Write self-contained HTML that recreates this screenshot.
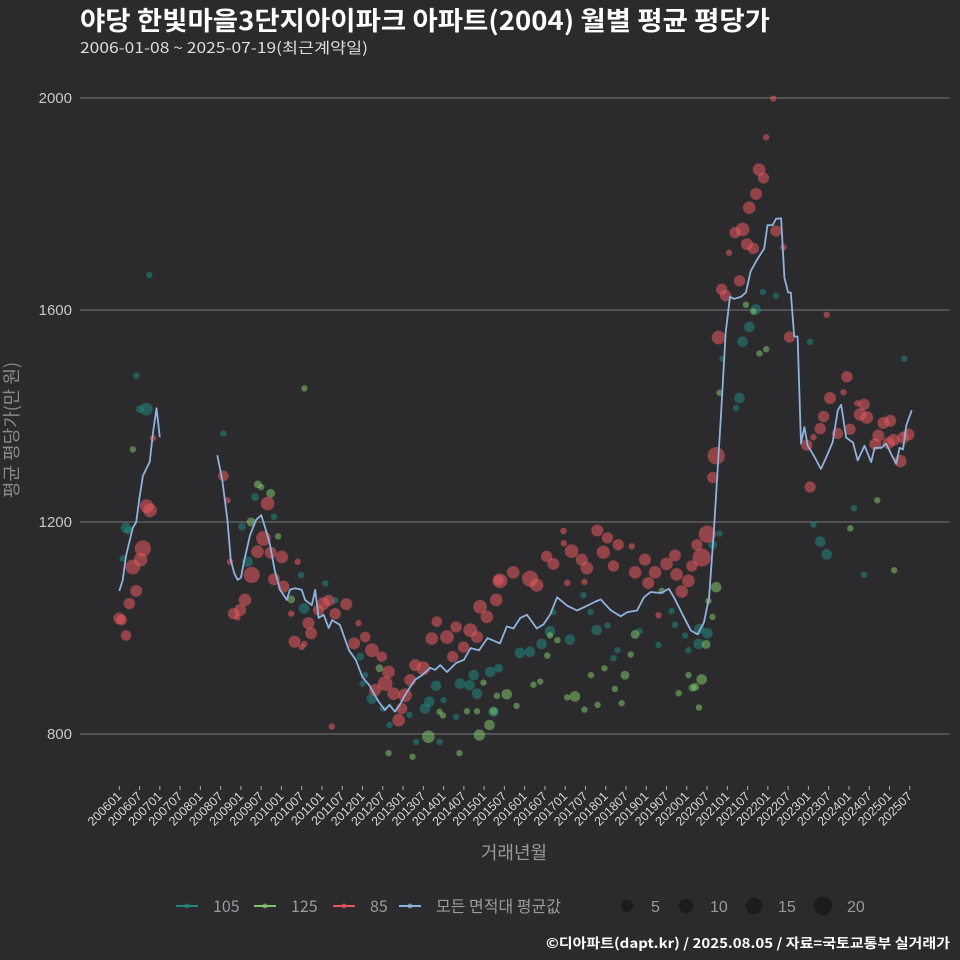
<!DOCTYPE html>
<html><head><meta charset="utf-8">
<style>
html,body{margin:0;padding:0;background:#2b2b2d;}
svg{display:block;font-family:"Liberation Sans","Noto Sans CJK KR",sans-serif;}
.kr{font-family:"Noto Sans CJK KR","Liberation Sans",sans-serif;}
</style></head>
<body>
<svg id="chart" width="960" height="960" viewBox="0 0 960 960">
<rect x="0" y="0" width="960" height="960" fill="#2b2b2d"/>
<text class="kr" x="80" y="30" fill="#ffffff" font-size="26" font-weight="bold" textLength="690" lengthAdjust="spacingAndGlyphs">야당 한빛마을3단지아이파크 아파트(2004) 월별 평균 평당가</text>
<text class="kr" x="80" y="53" fill="#dddddd" font-size="15" textLength="288" lengthAdjust="spacingAndGlyphs">2006-01-08 ~ 2025-07-19(최근계약일)</text>
<g id="grid"></g>
<g id="marks"></g>
<g id="xaxis"></g>
<text class="kr" x="0" y="0" transform="translate(18,430) rotate(-90)" text-anchor="middle" fill="#8a8a8a" font-size="18">평균 평당가(만 원)</text>
<text class="kr" x="514" y="859" text-anchor="middle" fill="#999999" font-size="18">거래년월</text>
<g id="legend"></g>
<text class="kr" x="546" y="948" fill="#ffffff" font-size="13.5" font-weight="bold" textLength="404" lengthAdjust="spacingAndGlyphs">©디아파트(dapt.kr) / 2025.08.05 / 자료=국토교통부 실거래가</text>
</svg>
<script>
// ---- data (month index from 2006-01) ----
const yTicks = [800, 1200, 1600, 2000];
const xTickLabels = ["200601","200607","200701","200707","200801","200807","200901","200907","201001","201007","201101","201107","201201","201207","201301","201307","201401","201407","201501","201507","201601","201607","201701","201707","201801","201807","201901","201907","202001","202007","202101","202107","202201","202207","202301","202307","202401","202407","202501","202507"];

const avgMonth = [0,1,2,4,5,6,7,8.5,9,10,11,12,null,29,30.5,32,33,34,35,36,37,38.7,40.5,42,43.4,44.6,46,47.6,49.6,50.5,52,54,55,57,58,59,60.5,62,63,65.3,68,70,72,74,76.5,78.6,80,81.6,83,84.6,87.5,89.6,92,93.5,95,97,99.7,102,104,106.5,109,112.7,114.7,116.7,118.7,120.7,123.6,125.6,127.6,129.6,132.6,135.5,138.5,141,142.5,145.4,148.4,150.4,153.3,155.3,157.3,160.3,162.7,164.2,166.7,169.2,171.2,173.1,174.6,176.1,178.1,179.5,180.8,182,184,185.5,186.9,188.9,190.9,191.9,193.4,194.4,195.9,196.9,198,198.8,199.8,200.8,201.8,202.8,203.8,205.7,207.7,209.2,211.2,212.7,213.7,215.2,217.2,218.6,220.6,222.6,223.6,225.6,227,228.5,230,231,232,233,234.6];
const avgValue = [1070,1090,1137,1189,1200,1247,1287,1307,1313,1370,1415,1360,null,1326,1279,1204,1128,1104,1091,1095,1128,1175,1204,1213,1185,1157,1109,1072,1053,1072,1075,1072,1053,1043,1072,1019,1025,1000,1015,1006,958,940,907,892,864,845,855,842,855,874,902,911,925,921,930,917,934,940,962,958,981,971,1003,999,1019,1025,999,1007,1026,1058,1042,1033,1042,1050,1054,1034,1022,1030,1033,1058,1068,1066,1074,1058,1026,995,988,1011,1058,1193,1399,1558,1625,1621,1625,1633,1673,1696,1716,1760,1760,1772,1773,1661,1633,1633,1550,1550,1348,1379,1344,1324,1300,1321,1351,1411,1421,1359,1350,1316,1344,1313,1340,1340,1348,1328,1310,1340,1337,1383,1411];

const redMonth = [30.8,32,8.1,9.1,7,6.3,4,5,3,0,0.7,2,10,43.9,42.7,40.9,44.8,48.1,32.8,39.2,45.8,48.6,52.8,37.2,35.8,33.8,35,50.9,60.4,62,59,63.9,67.2,56,56.8,51.9,54,54.8,70.8,69.5,72.8,74.8,77.7,79.7,78.7,81.2,84.6,83.6,82.7,86.1,87.6,90,92.5,94,97,99.7,101.9,98.7,103.9,105.9,106.8,108.8,111.6,112.3,62.9,75.7,112.7,116.6,121.6,123.6,126.5,128.5,131.5,133.9,136.9,138.4,141.5,143.3,144.5,147.7,146.3,151.7,152.7,155.6,158.6,156.6,162,164.5,165,166.5,168.5,169.5,171,172.4,174.1,132.6,137.7,159.6,131.6,175.7,176.7,177.4,178.3,179.5,180.5,183.6,182.3,184.5,185.8,187.7,186.5,188.5,189.4,190.7,191.5,193.6,194.4,196.6,198.4,204.5,203.5,205.5,207.5,208.5,209.4,210.4,212.6,214.4,215.4,216.3,218.5,219.3,220.5,221.3,223.8,224.7,226.2,228.2,227.7,229.2,231.2,232.1,233.6];
const redValue = [1287,1241,1230,1222,1150,1129,1115,1070,1046,1018,1015,986,1358,1235,1169,1144,1142,1134,1125,1100,1092,1078,1125,1053,1034,1027,1020,1027,1046,1052,1034,1027,1045,1009,990,974,964,970,1009,971,983,958,946,917,895,876,873,848,826,902,930,924,980,1012,983,1002,964,946,996,983,1040,1021,1053,1090,814,883,1089,1105,1093,1081,1135,1121,1183,1145,1129,1113,1184,1143,1170,1157,1117,1154,1105,1129,1105,1085,1121,1137,1101,1069,1089,1117,1157,1133,1177,1085,1087,1024,1160,1284,1325,1548,1639,1627,1708,1655,1746,1752,1724,1716,1793,1819,1865,1849,1926,1999,1749,1718,1549,1266,1345,1360,1376,1399,1591,1434,1367,1445,1474,1375,1424,1403,1422,1397,1347,1363,1387,1391,1349,1355,1315,1359,1365];
const redCount = [5,1,10,10,15,10,12,7,6,7,5,5,1,10,12,8,7,8,1,15,7,7,1,8,7,6,1,1,8,6,6,6,7,7,7,7,1,1,1,7,5,10,5,8,12,8,10,6,8,7,7,10,8,5,10,6,6,6,10,7,10,8,8,5,1,7,12,8,15,9,6,7,1,10,7,8,7,9,6,6,6,1,8,7,8,7,8,7,8,8,8,6,6,20,18,1,1,1,1,6,18,10,6,6,1,6,6,10,7,6,8,7,8,6,1,1,6,1,6,6,6,1,6,6,1,7,6,1,6,6,1,8,6,8,7,7,7,7,7,7,8,7,7];

const tealMonth = [8.9,5,8,6.1,2,2.7,1,30.8,40.2,45.8,36.3,38,53.8,61,54.7,64,71.3,72.8,72,74.8,78,80,90.5,91.8,93.8,96,100.9,103.7,104.9,105.9,109.8,110.8,112.3,87.9,94.8,99.7,85.9,118.6,121.6,125,127.5,133.4,141.3,139.5,137.4,128.5,144.5,146.3,147.5,154,159.6,163.5,164.5,167.5,168.5,171.7,174.1,171.5,175.7,177.7,178.5,183.6,182.6,184.5,186.5,188.4,190.5,194.4,204.5,205.5,207.5,209.4,217.5,220.5,232.4];
const tealValue = [1666,1476,1413,1413,1189,1184,1131,1367,1247,1210,1191,1125,1100,1084,1037,1052,946,911,895,867,848,817,848,861,891,864,895,892,911,876,917,842,924,785,785,832,836,953,955,970,994,978,996,1030,1062,1030,1005,943,958,994,968,1032,1006,986,958,998,990,970,1157,1178,1508,1434,1415,1540,1568,1601,1634,1627,1540,1195,1163,1139,1226,1100,1508];
const tealCount = [1,1,8,2,5,2,1,1,2,1,2,5,1,1,5,1,2,1,1,5,1,1,5,5,5,1,5,5,5,5,5,5,3,1,1,1,1,5,5,5,5,5,5,1,1,1,1,1,1,1,1,1,1,1,1,5,5,5,3,1,1,5,1,5,5,5,1,1,1,1,5,5,1,1,1];

const greenMonth = [4,54.8,41,42,44.8,39,47,50.9,77,94.8,95.8,102.9,105.9,107.8,110.8,111.8,91.5,106.6,109.6,79.7,86.8,100.7,114.7,117.6,122.6,124.6,127.5,129.7,126.7,134.9,132.6,137.7,139.6,141.6,143.6,146.7,148.7,149.7,152.7,151.4,160.6,165.6,168.5,169.7,170.5,171.6,172.4,173.7,174.4,175.6,176.7,177.7,185.5,187.7,189.5,191.5,216.4,224.4,229.4];
const greenValue = [1337,1452,1271,1266,1254,1200,1173,1054,924,842,835,843,843,897,843,872,795,798,817,764,757,764,875,853,893,899,986,977,948,871,869,846,911,855,924,885,858,911,988,950,1070,877,911,887,889,850,903,969,1051,1021,1077,1444,1610,1597,1518,1526,1188,1241,1109];
const greenCount = [1,1,2,1,3,3,1,2,2,1,1,1,1,1,2,1,8,6,5,1,1,1,5,1,1,1,1,1,1,5,1,1,1,1,1,1,1,3,3,1,1,1,1,2,2,1,5,3,1,1,5,1,1,1,1,1,1,1,1];

// ---- scales ----
const X0 = 119.3, XPM = 3.378;
function xs(m){ return X0 + m * XPM; }
function ys(v){ return 98 + (2000 - v) * 0.53; }
function rs(n){ return 1.5 + 1.7 * Math.sqrt(n); }
const NS = "http://www.w3.org/2000/svg";
function mk(tag, attrs, parent){ const e = document.createElementNS(NS, tag); for (const k in attrs) e.setAttribute(k, attrs[k]); parent.appendChild(e); return e; }

const grid = document.getElementById('grid');
yTicks.forEach(function(t){
  const l = mk('line', {x1:80, x2:950, y1:ys(t), y2:ys(t), stroke:'#6a6a6a', 'stroke-width':1.2}, grid);
  
  
  const tx = mk('text', {x:72, y:ys(t)+5, 'text-anchor':'end', fill:'#c8c8c8', 'font-size':15}, grid);
  tx.textContent = t;
  
  
});

const xa = document.getElementById('xaxis');
xTickLabels.forEach(function(lab, i){
  const x = xs(i * 6);
  const tk = mk('line', {x1:x, x2:x, y1:786, y2:790, stroke:'#aaaaaa', 'stroke-width':1}, xa);
  
  
  const tx = mk('text', {x:x+3, y:797, 'text-anchor':'end', fill:'#d8d8d8', 'font-size':12.5, transform:'rotate(-45,'+(x+3)+',797)'}, xa);
  tx.textContent = lab;
  
  
});

const marks = document.getElementById('marks');
function series(ms, vs, cs, color, op, name){
  const g = mk('g', {}, marks);
  
  
  for (let i = 0; i < ms.length; i++){
    const c = mk('circle', {cx:xs(ms[i]), cy:ys(vs[i]), r:rs(cs[i]), fill:color, 'fill-opacity':op}, g);
    
    
  }
}
series(tealMonth, tealValue, tealCount, '#22877f', 0.55, '105');
series(greenMonth, greenValue, greenCount, '#7fc46c', 0.55, '125');
series(redMonth, redValue, redCount, '#ea5a60', 0.55, '85');

let d = '', pen = false;
for (let i = 0; i < avgMonth.length; i++){
  if (avgMonth[i] === null){ pen = false; continue; }
  d += (pen ? 'L' : 'M') + xs(avgMonth[i]).toFixed(1) + ',' + ys(avgValue[i]).toFixed(1);
  pen = true;
}
const line = mk('path', {d:d, fill:'none', stroke:'#8fb2de', 'stroke-width':1.8, 'stroke-linejoin':'round'}, marks);



// legend
const lg = document.getElementById('legend');
const legItems = [['105','#22877f',176],['125','#7fc46c',254],['85','#e5555b',333],['모든 면적대 평균값','#8fb2de',399]];
legItems.forEach(function(it){
  const g = mk('g', {}, lg);
  
  
  mk('line', {x1:it[2], x2:it[2]+22, y1:906, y2:906, stroke:it[1], 'stroke-width':2}, g);
  mk('circle', {cx:it[2]+11, cy:906, r:2.5, fill:it[1], 'fill-opacity':0.7}, g);
  const t = mk('text', {x:it[2]+37, y:912, fill:'#9a9a9a', 'font-size':16, 'class':'kr'}, g);
  t.textContent = it[0];
});
const sizeItems = [[5,627,4.6],[10,686,5.6],[15,754,6.8],[20,823,7.8]];
sizeItems.forEach(function(it){
  const g = mk('g', {}, lg);
  
  
  mk('circle', {cx:it[1], cy:906, r:it[2]+1.5, fill:'#1c1c1d'}, g);
  const t = mk('text', {x:it[1]+24, y:912, fill:'#9a9a9a', 'font-size':16}, g);
  t.textContent = it[0];
});
</script>
</body></html>
